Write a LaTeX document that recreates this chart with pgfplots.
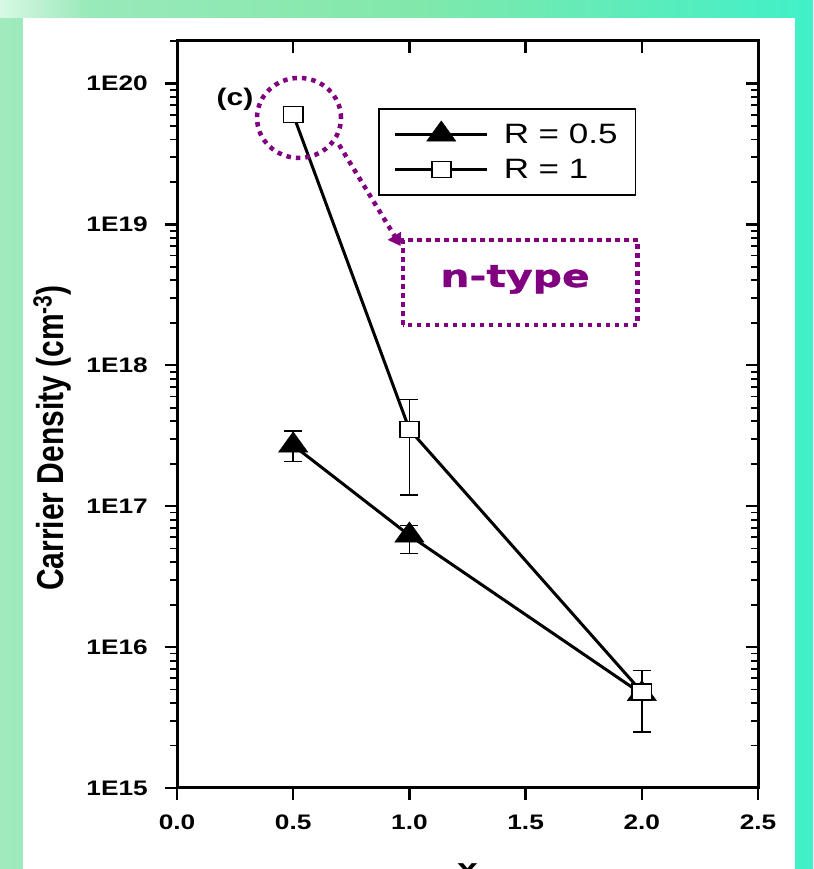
\documentclass[border=0pt]{standalone}
\usepackage{pgfplots}
\pgfplotsset{compat=1.18}
\usepackage{pgfplotstable}
\usepackage{fontspec}
\setmainfont{Liberation Sans}
\newfontfamily\wf{Liberation Sans}[FakeStretch=1.25]
\newfontfamily\nf{DejaVu Sans}[FakeStretch=1.32, BoldFeatures={FakeBold=1.2}]
\usetikzlibrary{arrows.meta}
\definecolor{ppl}{RGB}{128,0,128}
\definecolor{bgL}{RGB}{160,234,190}
\definecolor{bgM}{RGB}{130,232,170}
\definecolor{bgR}{RGB}{64,240,200}
\definecolor{bgG}{RGB}{215,248,228}

\pgfplotstableread{
x y ep em
0.5 2.7e17 0.7e17 0.63e17
1.0 6.2e16 1.1e16 1.6e16
2.0 4.65e15 0.4e15 0.4e15
}\rhalf
\pgfplotstableread{
x y ep em
0.5 6.0e19 0.3e19 0.3e19
1.0 3.5e17 2.2e17 2.3e17
2.0 4.8e15 2.0e15 2.3e15
}\rone

\pgfplotsset{myminor/.style={minor ytick={2e15,3e15,4e15,5e15,6e15,7e15,8e15,9e15,2e16,3e16,4e16,5e16,6e16,7e16,8e16,9e16,2e17,3e17,4e17,5e17,6e17,7e17,8e17,9e17,2e18,3e18,4e18,5e18,6e18,7e18,8e18,9e18,2e19,3e19,4e19,5e19,6e19,7e19,8e19,9e19,2e20}}}

\begin{document}
\begin{tikzpicture}
\useasboundingbox (0pt,0pt) rectangle (813pt,869pt);
\clip (0pt,0pt) rectangle (813pt,869pt);
\shade[left color=bgL, right color=bgR, middle color=bgM] (0pt,0pt) rectangle (813pt,869pt);
\shade[left color=bgG, right color=bgL] (0pt,851pt) rectangle (80pt,869pt);
\fill[white] (23pt,-10pt) rectangle (795pt,851pt);

\begin{axis}[
  at={(177pt,81pt)}, anchor=south west,
  width=581pt, height=747pt, scale only axis,
  xmin=0, xmax=2.5, ymin=1e15, ymax=2e20, ymode=log,
  axis line style={line width=3pt},
  every tick/.style={black, line width=2.5pt},
  minor tick style={line width=1.8pt},
  major tick length=12pt, minor tick length=7pt,
  tick align=outside, tick pos=left,
  xtick={0,0.5,1,1.5,2,2.5},
  xticklabels={0.0,0.5,1.0,1.5,2.0,2.5},
  ytick={1e15,1e16,1e17,1e18,1e19,1e20},
  yticklabels={1E15,1E16,1E17,1E18,1E19,1E20},
  myminor,
  tick label style={font=\wf\bfseries\fontsize{21}{25}\selectfont},
  yticklabel style={inner sep=0pt, xshift=-17pt},
  xticklabel style={inner sep=0pt, yshift=-15pt},
  every axis y label/.style={at={(axis description cs:-0.215,0.4685)}, rotate=90, anchor=center},
  ylabel={\scalebox{1}[1.25]{\bfseries\fontsize{30}{36}\selectfont Carrier Density (cm\textsuperscript{-3})}},
  every axis x label/.style={at={(axis description cs:0.5,-0.123)}, anchor=base},
  xlabel={\wf\bfseries\fontsize{30}{36}\selectfont x},
  legend style={at={(axis description cs:0.346,0.910)}, anchor=north west,
    draw=black, line width=1.5pt, inner xsep=15pt, inner ysep=12pt,
    font=\wf\fontsize{28}{32}\selectfont, nodes={inner sep=3pt}, row sep=8pt,
    /tikz/every odd column/.append style={column sep=12pt}},
  legend cell align=left,
  legend image code/.code={\draw[mark repeat=2,mark phase=2,#1] plot coordinates {(0pt,0pt)(46pt,0pt)(92pt,0pt)};},
]
\addplot[black, line width=3pt, mark=triangle*, mark size=13.5pt,
  mark options={xscale=1.25, fill=black, solid, line width=0.5pt},
  error bars/.cd, y dir=both, y explicit,
  error bar style={line width=1.5pt, black},
  error mark options={rotate=90, mark size=9pt, line width=1.5pt, black}]
  table[x=x, y=y, y error plus=ep, y error minus=em] {\rhalf};
\addlegendentry{R = 0.5}
\addplot[black, line width=3pt, mark=square*, mark size=8pt,
  mark options={xscale=1.2, fill=white, solid, line width=1.7pt},
  error bars/.cd, y dir=both, y explicit,
  error bar style={line width=1.5pt, black},
  error mark options={rotate=90, mark size=9pt, line width=1.5pt, black}]
  table[x=x, y=y, y error plus=ep, y error minus=em] {\rone};
\addlegendentry{R = 1}

\node[font=\wf\bfseries\fontsize{24}{28}\selectfont] at (axis description cs:0.0998,0.922) {(c)};
\draw[ppl, line width=4.5pt, dash pattern=on 4.5pt off 5pt] (axis description cs:0.210,0.897) ellipse [x radius=42pt, y radius=40pt];
\draw[ppl, line width=4.5pt, dash pattern=on 4.5pt off 5pt, -{Triangle[length=12pt, width=15pt]}] (axis description cs:0.279,0.861) -- (axis description cs:0.385,0.7255);
\draw[ppl, line width=4.5pt, dash pattern=on 4.5pt off 4.5pt] (axis description cs:0.389,0.6198) rectangle (axis description cs:0.793,0.7336);
\node[ppl, anchor=base, font=\nf\bfseries\fontsize{31}{36}\selectfont] at (axis description cs:0.5818,0.6707) {n-type};
\end{axis}

\begin{axis}[
  at={(177pt,81pt)}, anchor=south west,
  width=581pt, height=747pt, scale only axis,
  xmin=0, xmax=2.5, ymin=1e15, ymax=2e20, ymode=log,
  axis x line*=top, axis y line*=right,
  axis line style={line width=3pt, -},
  every tick/.style={black, line width=2.5pt},
  minor tick style={line width=1.8pt},
  major tick length=12pt, minor tick length=7pt,
  tick align=inside,
  xtick={0.5,1,1.5,2}, xticklabels={},
  ytick={1e15,1e16,1e17,1e18,1e19,1e20}, yticklabels={},
  tick label style={opacity=0},
  myminor,
]
\draw[black, line width=2.5pt] (axis description cs:0.2,1) -- ([yshift=-12pt]axis description cs:0.2,1);
\draw[black, line width=2.5pt] (axis description cs:0.4,1) -- ([yshift=-12pt]axis description cs:0.4,1);
\draw[black, line width=2.5pt] (axis description cs:0.6,1) -- ([yshift=-12pt]axis description cs:0.6,1);
\draw[black, line width=2.5pt] (axis description cs:0.8,1) -- ([yshift=-12pt]axis description cs:0.8,1);
\end{axis}
\end{tikzpicture}
\end{document}
